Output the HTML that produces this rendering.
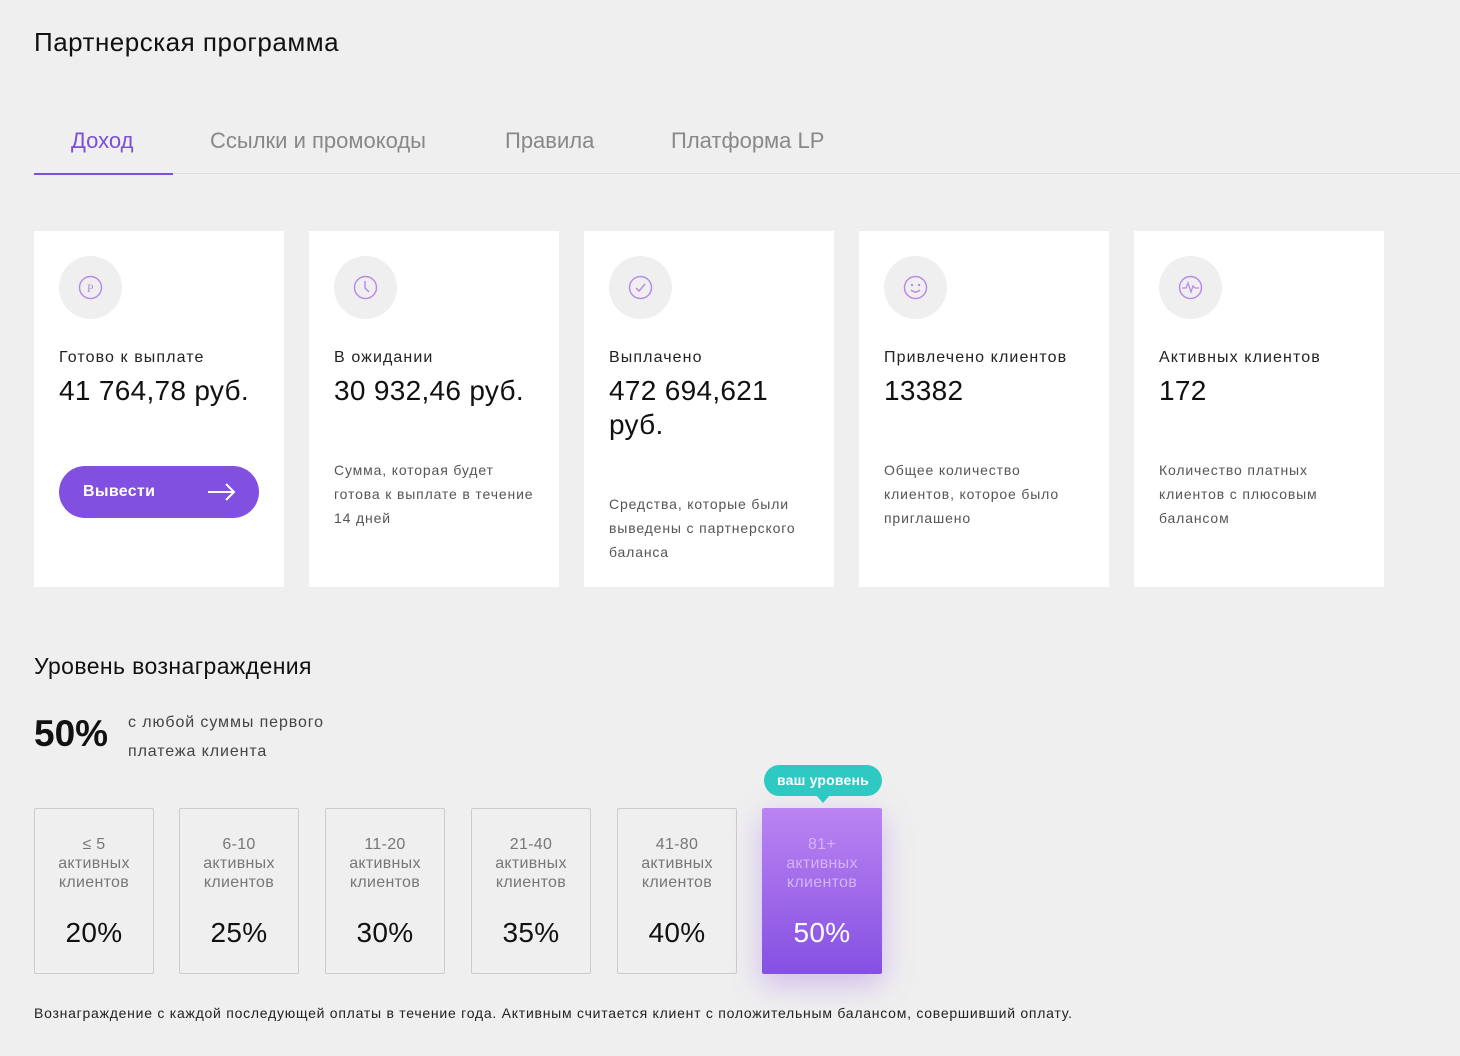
<!DOCTYPE html>
<html><head><meta charset="utf-8"><style>
*{margin:0;padding:0;box-sizing:border-box}
body{width:1460px;height:1056px;background:#efefef;font-family:"Liberation Sans","Noto Sans CJK SC",sans-serif;color:#111;position:relative;overflow:hidden;letter-spacing:0.7px}
.a{position:absolute;white-space:nowrap}
.card{position:absolute;top:231px;width:250px;height:356px;background:#fff}
.ic{position:absolute;left:25px;top:25px;width:63px;height:63px;border-radius:50%;background:#efefef}
.ic svg{position:absolute;left:19px;top:19px}
.lbl{position:absolute;left:25px;top:118px;font-size:16px;color:#222;letter-spacing:1.1px}
.val{position:absolute;left:25px;top:143px;font-size:28px;line-height:34px;color:#111;white-space:normal;width:210px;letter-spacing:0.3px}
.desc{position:absolute;left:25px;font-size:14px;line-height:24px;color:#555;top:227px;letter-spacing:0.85px}
.tier{position:absolute;top:808px;width:120px;height:166px;border:1px solid #ccc;border-radius:2px;text-align:center;color:#777;font-size:16px;line-height:19px;padding-top:26px;letter-spacing:0.3px}
.tier b{display:block;font-weight:normal;font-size:28px;color:#111;margin-top:31px}
</style></head><body>
<div class="a" style="left:34px;top:27px;font-size:26px;color:#111;letter-spacing:0.5px">Партнерская программа</div>
<div class="a" style="left:71px;top:128px;font-size:22px;color:#7b4fd6;letter-spacing:0">Доход</div>
<div class="a" style="left:210px;top:128px;font-size:22px;color:#888;letter-spacing:0">Ссылки и промокоды</div>
<div class="a" style="left:505px;top:128px;font-size:22px;color:#888;letter-spacing:0">Правила</div>
<div class="a" style="left:671px;top:128px;font-size:22px;color:#888;letter-spacing:0">Платформа LP</div>
<div class="a" style="left:34px;top:173px;width:1426px;height:1px;background:#ddd"></div>
<div class="a" style="left:34px;top:173px;width:139px;height:2px;background:#7b4fd6"></div>

<div class="card" style="left:34px"><div class="ic"><svg width="25" height="25"><circle cx="12.5" cy="12.5" r="11" fill="none" stroke="#b98be8" stroke-width="1.5"/><text x="12.5" y="17" font-size="12" text-anchor="middle" fill="#b98be8" font-family="Liberation Serif">P</text></svg></div>
<div class="lbl">Готово к выплате</div><div class="val">41 764,78 руб.</div>
<div class="a" style="left:25px;top:235px;width:200px;height:52px;border-radius:26px;background:#8250e0;color:#fff;font-size:16px;font-weight:bold;padding:17px 0 0 24px;letter-spacing:0.3px">Вывести<svg style="position:absolute;left:148px;top:16px" width="30" height="20"><path d="M1 10H27M19 2L27 10L19 18" fill="none" stroke="#fff" stroke-width="2"/></svg></div></div>

<div class="card" style="left:309px"><div class="ic"><svg width="25" height="25"><circle cx="12.5" cy="12.5" r="11" fill="none" stroke="#b98be8" stroke-width="1.5"/><path d="M12 6V13L16 17" fill="none" stroke="#b98be8" stroke-width="1.5"/></svg></div>
<div class="lbl">В ожидании</div><div class="val">30 932,46 руб.</div>
<div class="desc">Сумма, которая будет<br>готова к выплате в течение<br>14 дней</div></div>

<div class="card" style="left:584px"><div class="ic"><svg width="25" height="25"><circle cx="12.5" cy="12.5" r="11" fill="none" stroke="#b98be8" stroke-width="1.5"/><path d="M8 13L11 16L17 9" fill="none" stroke="#b98be8" stroke-width="1.5"/></svg></div>
<div class="lbl">Выплачено</div><div class="val">472 694,621 руб.</div>
<div class="desc" style="top:261px">Средства, которые были<br>выведены с партнерского<br>баланса</div></div>

<div class="card" style="left:859px"><div class="ic"><svg width="25" height="25"><circle cx="12.5" cy="12.5" r="11" fill="none" stroke="#b98be8" stroke-width="1.5"/><circle cx="9" cy="10" r="1.2" fill="#b98be8"/><circle cx="16" cy="10" r="1.2" fill="#b98be8"/><path d="M8 15Q12.5 19 17 15" fill="none" stroke="#b98be8" stroke-width="1.5"/></svg></div>
<div class="lbl">Привлечено клиентов</div><div class="val">13382</div>
<div class="desc">Общее количество<br>клиентов, которое было<br>приглашено</div></div>

<div class="card" style="left:1134px"><div class="ic"><svg width="25" height="25"><circle cx="12.5" cy="12.5" r="11" fill="none" stroke="#b98be8" stroke-width="1.5"/><path d="M4 13H8L10 8L13 17L15 11L17 13H21" fill="none" stroke="#b98be8" stroke-width="1.3"/></svg></div>
<div class="lbl">Активных клиентов</div><div class="val">172</div>
<div class="desc">Количество платных<br>клиентов с плюсовым<br>балансом</div></div>

<div class="a" style="left:34px;top:653px;font-size:23px;color:#111;letter-spacing:0.4px">Уровень вознаграждения</div>
<div class="a" style="left:34px;top:713px;font-size:37px;font-weight:bold;color:#111;letter-spacing:0">50%</div>
<div class="a" style="left:128px;top:708px;font-size:16px;line-height:29px;color:#444;letter-spacing:0.9px">с любой суммы первого<br>платежа клиента</div>

<div class="tier" style="left:34px">≤ 5<br>активных<br>клиентов<b>20%</b></div>
<div class="tier" style="left:179px">6-10<br>активных<br>клиентов<b>25%</b></div>
<div class="tier" style="left:325px">11-20<br>активных<br>клиентов<b>30%</b></div>
<div class="tier" style="left:471px">21-40<br>активных<br>клиентов<b>35%</b></div>
<div class="tier" style="left:617px">41-80<br>активных<br>клиентов<b>40%</b></div>
<div class="tier" style="left:762px;border:none;background:linear-gradient(#bb84f2,#8550e2);color:#d4b3f6;box-shadow:0 10px 30px rgba(150,90,230,.35);padding-top:27px">81+<br>активных<br>клиентов<b style="color:#fff">50%</b></div>
<div class="a" style="left:764px;top:765px;width:118px;height:31px;border-radius:16px;background:#2ec9c2;color:#fff;font-size:14px;font-weight:bold;text-align:center;line-height:31px;letter-spacing:0.2px">ваш уровень</div>
<div class="a" style="left:816px;top:795px;width:0;height:0;border-left:7px solid transparent;border-right:7px solid transparent;border-top:8px solid #2ec9c2"></div>

<div class="a" style="left:34px;top:1005px;font-size:14px;color:#222;letter-spacing:0.75px">Вознаграждение с каждой последующей оплаты в течение года. Активным считается клиент с положительным балансом, совершивший оплату.</div>
</body></html>
